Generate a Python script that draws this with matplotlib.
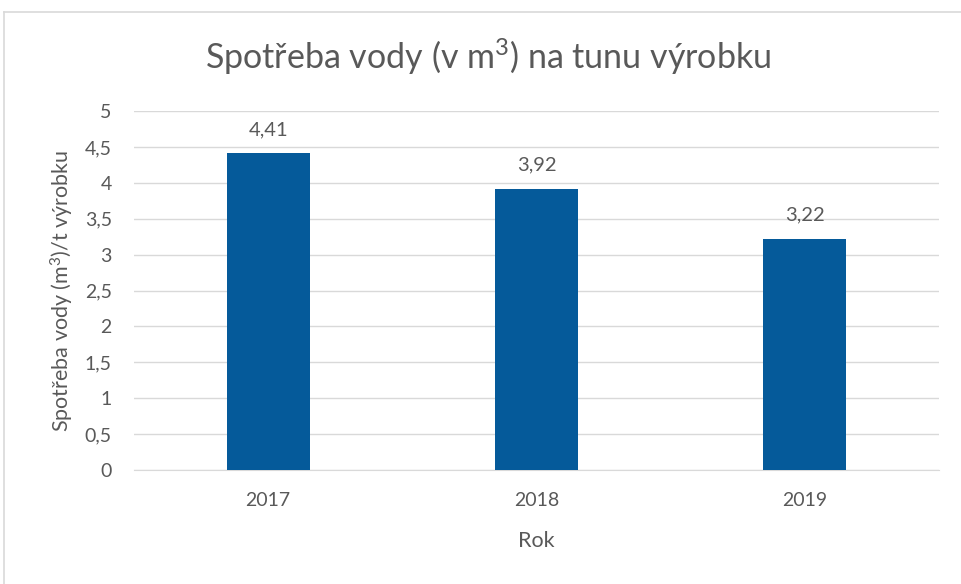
import matplotlib
matplotlib.use("Agg")
import matplotlib.pyplot as plt
from matplotlib.ticker import FuncFormatter, MultipleLocator
from matplotlib.lines import Line2D

years = ["2017", "2018", "2019"]
values = [4.41, 3.92, 3.22]
value_labels = ["4,41", "3,92", "3,22"]
title = "Spotřeba vody (v m$^3$) na tunu výrobku"
ylabel = "Spotřeba vody (m$^3$)/t výrobku"
xlabel = "Rok"

plt.rcParams['font.family'] = ['Lato', 'DejaVu Sans']
plt.rcParams['mathtext.fontset'] = 'custom'
plt.rcParams['mathtext.rm'] = 'Lato'
plt.rcParams['mathtext.it'] = 'Lato'
plt.rcParams['mathtext.default'] = 'regular'

txt = '#595959'
fig = plt.figure(figsize=(9.61, 5.84), dpi=100)
ax = fig.add_axes([134/961, (584-470)/584, (939-134)/961, (470-111)/584])

x = range(len(years))
bars = ax.bar(x, values, width=0.31, color='#055A9A', zorder=3)
for xi, v, lab in zip(x, values, value_labels):
    ax.annotate(lab, (xi, v), xytext=(0, 11), textcoords='offset points',
                ha='center', va='bottom', fontsize=14.5, color=txt)

ax.set_xlim(-0.5, 2.5)
ax.set_ylim(0, 5)
ax.yaxis.set_major_locator(MultipleLocator(0.5))
ax.yaxis.set_major_formatter(FuncFormatter(lambda v, p: ('%g' % v).replace('.', ',')))
ax.set_xticks(list(x))
ax.set_xticklabels(years)
ax.grid(axis='y', color='#D9D9D9', linewidth=1, zorder=0)
for s in ['top', 'right', 'left']:
    ax.spines[s].set_visible(False)
ax.spines['bottom'].set_color('#D9D9D9')
ax.tick_params(axis='both', length=0, labelsize=14, colors=txt)
ax.tick_params(axis='x', pad=16)
ax.tick_params(axis='y', pad=16)
ax.set_xlabel(xlabel, fontsize=15.5, color=txt, labelpad=16)
ax.set_ylabel(ylabel, fontsize=15.5, color=txt, labelpad=6)
fig.text(488/961, 1 - 57/584, title, ha='center', va='center', fontsize=24.5, color=txt)

# chart border
fig.add_artist(Line2D([4/961, 1], [1 - 12/584, 1 - 12/584], transform=fig.transFigure, color='#D9D9D9', lw=1.2))
fig.add_artist(Line2D([4/961, 4/961], [0, 1 - 12/584], transform=fig.transFigure, color='#D9D9D9', lw=1.2))

fig.savefig("out.png", dpi=100, facecolor='white')
